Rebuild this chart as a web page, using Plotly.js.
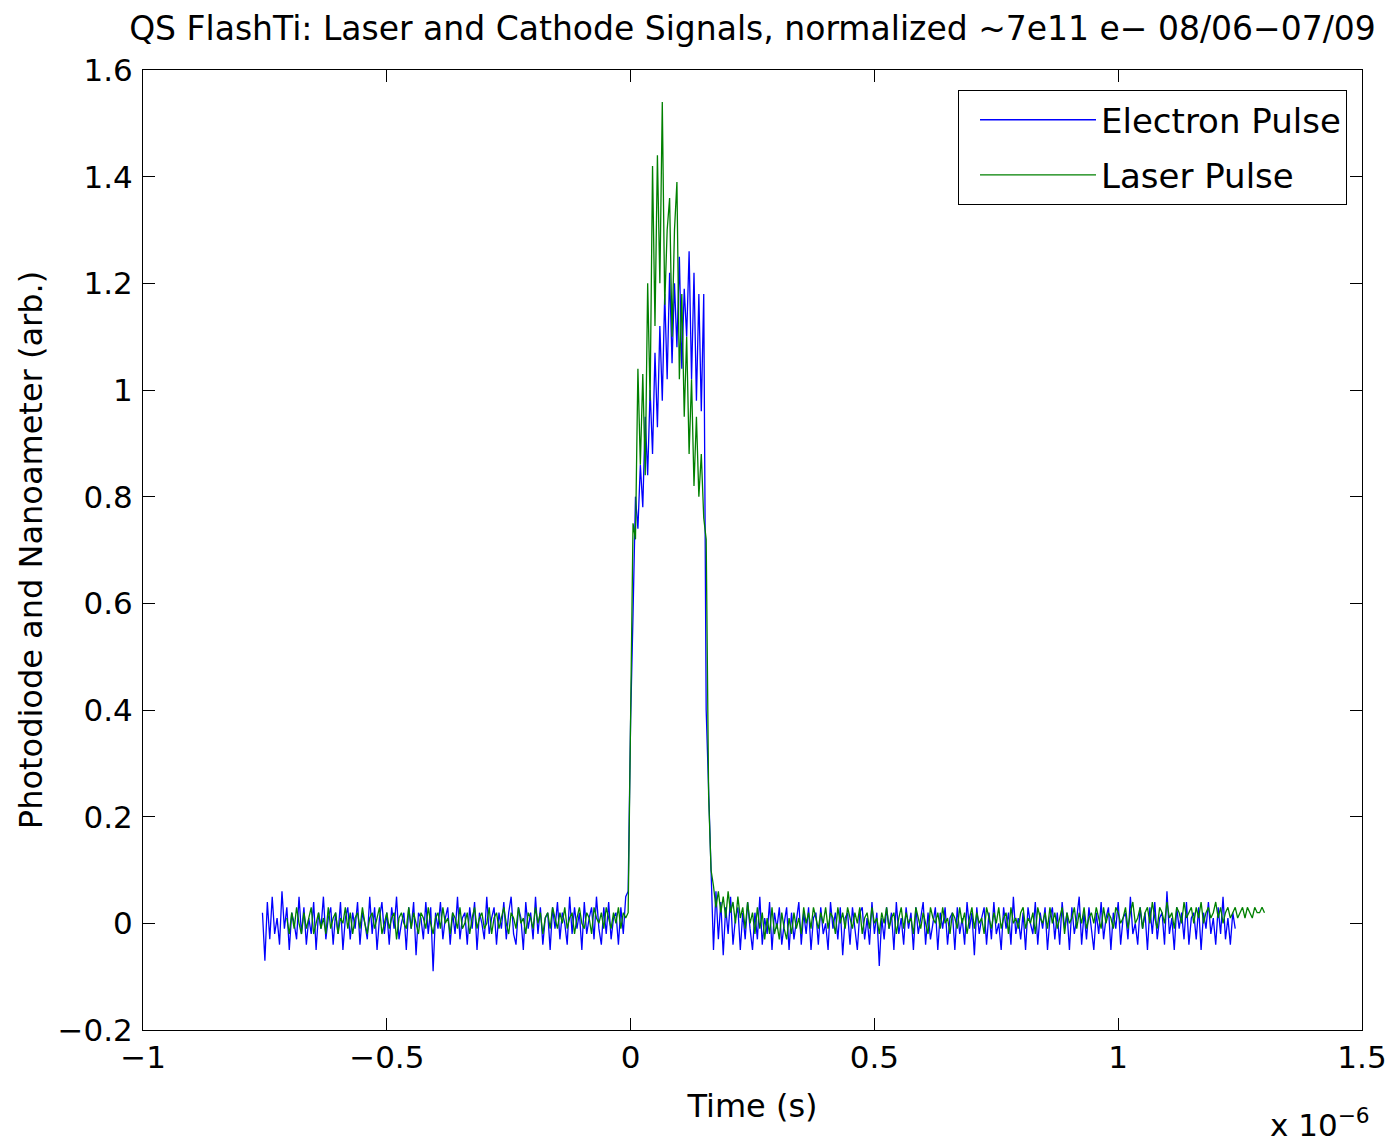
<!DOCTYPE html>
<html>
<head>
<meta charset="utf-8">
<script src="https://cdn.plot.ly/plotly-3.0.1.min.js"></script>
<style>html,body{margin:0;padding:0;background:#fff;}#chart{width:1393px;height:1146px;}</style>
</head>
<body>
<div id="chart"></div>
<script>
// Time axis in microseconds (axis label shows x 10^-6 s)
const electronStart = -0.755;
const laserStart = -0.705;
const sampleStep = 0.005;

const electronPre = [
.02,-.07,.04,-.03,.05,-.02,.01,-.04,.06,-.01,.03,-.05,.02,.00,-.03,.05,-.02,.03,-.04,.01,
-.02,.04,-.05,.02,-.01,.05,-.03,.01,.03,-.04,.02,-.02,.04,-.05,.01,.03,-.03,.02,-.01,.04,
-.04,.02,.00,-.03,.05,-.02,.03,-.05,.01,.04,-.02,.02,-.04,.03,-.01,.05,-.03,.00,.02,-.05,
.03,-.01,.04,-.06,.02,.01,-.03,.04,-.02,.03,-.09,.02,-.01,.04,-.03,.01,.03,-.04,.02,-.02,
.05,-.03,.01,.02,-.04,.03,-.01,.04,-.05,.02,.00,-.03,.05,-.02,.01,.03,-.04,.02,-.01,.04,
-.03,.02,.05,-.02,-.04,.03,.01,-.05,.04,-.01,.02,-.03,.05,-.02,.03,-.04,.01,.02,-.05,.03,
-.01,.04,-.03,.02,.00,-.04,.05,-.02,.03,-.01,.02,-.05,.04,-.02,.01,.03,-.03,.05,-.01,-.04,
.03,-.02,.04,-.03,.01,.02,-.04,.03,-.02,.05,.06
];
const electronPulse = [
.38,.58,.80,.74,.86,.78,.95,.84,1.00,.88,1.07,.93,1.12,.98,1.18,1.02,
1.22,1.05,1.20,1.08,1.25,1.04,1.19,1.10,1.26,1.02,1.22,.98,1.18,.96,1.18,.40
];
const electronPost = [
.24,.12,-.05,.06,-.03,.04,-.06,.03,-.02,.05,-.04,.01,.03,-.05,.02,-.03,.04,-.01,-.05,.02,
-.03,.05,-.04,.01,-.02,.04,-.05,.02,-.01,.03,-.04,.00,.03,-.05,.02,-.03,.01,.04,-.04,.02,
-.02,.03,-.05,.01,.02,-.04,.03,-.02,.00,-.05,.04,-.01,.02,-.03,.03,-.06,.01,.02,-.04,.03,
-.01,-.05,.02,.03,-.03,.01,-.04,.04,-.02,.02,-.08,.01,-.03,.03,-.01,.02,-.05,.04,-.02,.01,
-.04,.03,-.01,.02,-.05,.03,-.02,.01,.04,-.04,.02,-.03,.00,.03,-.05,.02,-.01,.03,-.04,.01,
.02,-.05,.03,-.02,.01,-.04,.04,-.01,.02,-.06,.03,-.02,.01,.03,-.04,.02,-.03,.04,-.02,.00,
-.05,.03,-.01,.02,-.04,.05,-.02,.01,-.03,.02,-.05,.03,.00,-.02,.04,-.04,.02,-.01,.03,-.05,
.01,.03,-.03,.02,-.04,.04,-.01,.02,-.05,.03,-.02,.01,.05,-.04,.02,-.03,.03,-.01,-.05,.02,
-.02,.04,-.03,.01,.03,-.05,.02,-.01,.04,-.04,.01,.02,-.03,.05,-.02,.00,-.04,.03,-.01,.02,
-.05,.03,-.02,.04,-.03,.01,.02,-.04,.06,-.02,.01,-.05,.03,-.01,.02,-.03,.04,-.04,.01,.02,
-.03,.03,-.05,.02,-.01,.04,-.02,.01,-.04,.03,-.02,.05,-.03,.01,-.04,.02,-.01
];

const laserPre = [
.01,-.02,.02,-.01,.03,.00,-.02,.02,-.01,.01,.03,-.02,.00,.02,-.01,.01,-.02,.03,-.01,.01,
.02,-.02,.01,.00,.03,-.01,.02,-.02,.01,.02,-.01,.03,.00,-.02,.01,.02,-.01,.01,.03,-.02,
.00,.02,-.01,.01,.02,-.03,.01,.02,.00,-.01,.03,-.01,.02,.00,-.02,.02,.01,-.01,.03,.00,
-.02,.01,.02,-.01,.03,.00,.01,-.02,.02,.01,-.01,.03,-.01,.00,.02,-.02,.01,.03,-.01,.01,
.02,-.01,.00,.03,-.02,.01,.02,-.01,.01,.03,.00,-.02,.02,.01,-.01,.03,.00,.01,-.02,.02,
.01,-.01,.03,.00,.02,-.02,.01,.02,-.01,.03,.01,-.01,.02,.00,.03,-.01,.01,.02,-.02,.01,
.03,.00,-.01,.02,.01,-.02,.03,.01,.00,.02,-.01,.03,.01,-.01,.02,.00,.03,-.01,.02,.01,
.02
];
const laserPulse = [
.40,.75,.72,1.04,.86,1.03,.84,1.20,.98,1.42,1.12,1.44,1.20,1.54,1.16,1.30,
1.36,1.10,1.30,1.39,1.02,1.18,.95,1.10,.88,1.02,.82,.95,.80,.88,.76,.72
];
const laserPost = [
.24,.10,.07,.03,.06,.02,.05,.01,.06,.02,.04,.00,.05,.01,.03,-.01,.04,.00,.02,-.02,
.03,-.01,.02,-.03,.01,-.02,.03,-.02,.00,-.03,.02,-.01,-.03,.01,-.02,.02,-.01,.01,-.02,.03,
.00,.02,-.01,.03,.01,-.01,.02,.00,.03,-.01,.02,.01,-.02,.03,.00,.02,-.01,.03,.01,-.01,
.02,.00,.03,-.02,.01,.02,-.01,.03,.00,.01,-.02,.02,.00,.03,-.01,.01,.02,-.02,.01,.03,
-.01,.02,.00,.01,-.02,.03,.01,-.01,.02,.00,-.02,.03,.01,.00,.02,-.01,.03,.00,.01,-.02,
.02,.01,-.01,.03,.00,.02,-.02,.01,.03,-.01,.02,.00,.01,-.02,.03,.01,-.01,.02,.00,.03,
-.01,.01,.02,-.02,.03,.00,.01,-.01,.02,.03,-.01,.01,.00,.02,-.02,.03,.01,.00,.02,-.01,
.03,.00,.02,-.01,.01,.03,-.02,.02,.00,.01,.03,-.01,.02,.00,.03,-.01,.01,.02,.00,.03,
.01,-.01,.03,.00,.02,.01,-.01,.03,.02,.00,.01,.03,-.01,.02,.04,.00,.01,.03,-.01,.02,
.03,.00,.04,.01,-.01,.03,.02,.00,.04,.01,.02,-.01,.03,.02,.00,.04,.01,.02,.03,.00,
.03,.01,.04,.00,.02,.03,.01,.02,.04,.01,.03,.00,.02,.03,.01,.02,.03,.01,.02,.03,
.01,.03,.02,.01,.03,.02,.02,.03,.02
];

const electronValues = electronPre.concat(electronPulse, electronPost);
const laserValues = laserPre.concat(laserPulse, laserPost);

const seriesNames = ['Electron Pulse', 'Laser Pulse'];
const xTickVals = [-1, -0.5, 0, 0.5, 1, 1.5];
const xTickText = ['\u22121', '\u22120.5', '0', '0.5', '1', '1.5'];
const yTickVals = [-0.2, 0, 0.2, 0.4, 0.6, 0.8, 1, 1.2, 1.4, 1.6];
const yTickText = ['\u22120.2', '0', '0.2', '0.4', '0.6', '0.8', '1', '1.2', '1.4', '1.6'];

const FONT = 'DejaVu Sans, Liberation Sans, sans-serif';

const traces = [
  {
    type: 'scatter', mode: 'lines', name: seriesNames[0],
    y: electronValues, x0: electronStart, dx: sampleStep,
    line: {color: '#0000ff', width: 1.3}, legendgroup: 'e'
  },
  {
    type: 'scatter', mode: 'lines', name: seriesNames[1],
    y: laserValues, x0: laserStart, dx: sampleStep,
    line: {color: '#008000', width: 1.3}, legendgroup: 'l'
  }
];

const axisCommon = {
  showgrid: false, zeroline: false, showline: true, linecolor: '#000', linewidth: 1,
  mirror: 'ticks', ticks: 'inside', ticklen: 12, tickcolor: '#000', tickwidth: 1,
  tickfont: {family: FONT, size: 31, color: '#000'}, tickmode: 'array'
};

const layout = {
  width: 1393, height: 1146,
  paper_bgcolor: '#fff', plot_bgcolor: '#fff',
  margin: {l: 143, r: 31, t: 70, b: 116},
  title: {
    text: 'QS FlashTi: Laser and Cathode Signals, normalized ~7e11 e\u2212 08/06\u221207/09',
    font: {family: FONT, size: 33, color: '#000'},
    xref: 'paper', x: 0.5, xanchor: 'center', yref: 'container', y: 0.9756, yanchor: 'middle'
  },
  xaxis: Object.assign({}, axisCommon, {
    range: [-1, 1.5], tickvals: xTickVals, ticktext: xTickText,
    title: {text: 'Time (s)', font: {family: FONT, size: 32, color: '#000'}, standoff: 20}
  }),
  yaxis: Object.assign({}, axisCommon, {
    range: [-0.2, 1.6], tickvals: yTickVals, ticktext: yTickText, ticklabelstandoff: 3,
    title: {text: 'Photodiode and Nanoameter (arb.)', font: {family: FONT, size: 32, color: '#000'}, standoff: 5}
  }),
  showlegend: true,
  legend: {
    x: 0.9877, xanchor: 'right', y: 0.979, yanchor: 'top',
    bgcolor: '#fff', bordercolor: '#000', borderwidth: 1,
    font: {family: FONT, size: 34, color: '#000'},
    itemwidth: 116, indentation: 16, traceorder: 'grouped', tracegroupgap: 8
  },
  annotations: [{
    text: 'x 10<sup>\u22126</sup>', xref: 'paper', yref: 'paper',
    x: 0.9655, y: -0.097, xanchor: 'center', yanchor: 'middle', showarrow: false,
    font: {family: FONT, size: 31, color: '#000'}
  }]
};

Plotly.newPlot('chart', traces, layout, {staticPlot: true, displayModeBar: false});
</script>
</body>
</html>
